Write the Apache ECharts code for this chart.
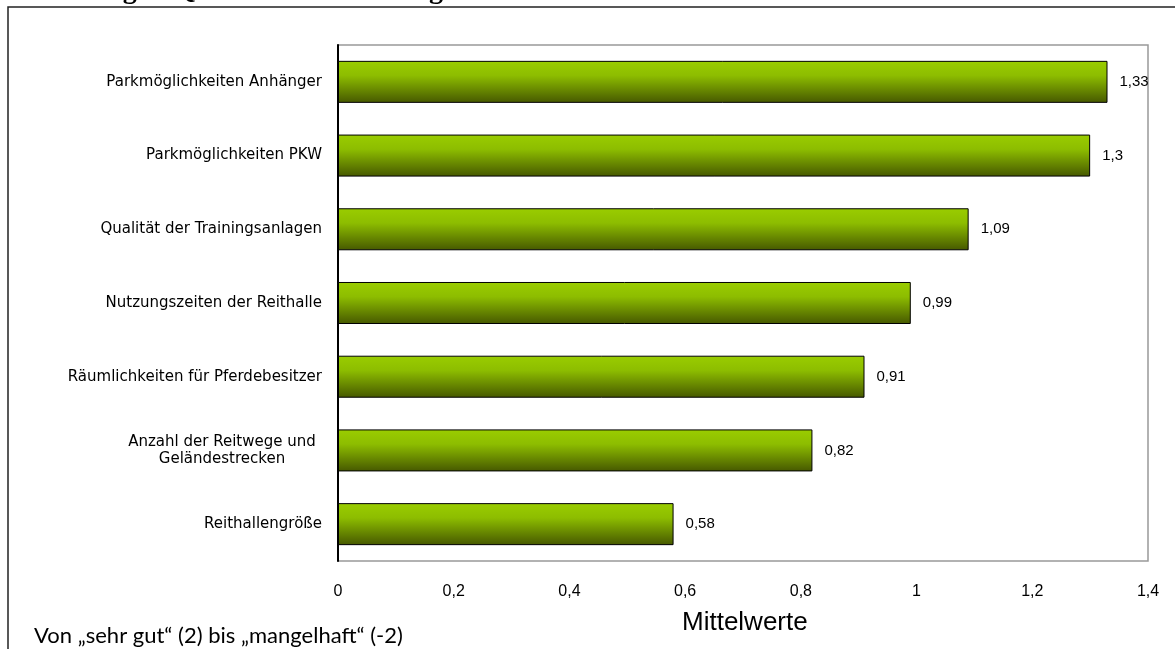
<!DOCTYPE html>
<html>
<head>
<meta charset="utf-8">
<script src="https://cdn.jsdelivr.net/npm/echarts@6/dist/echarts.min.js"></script>
<style>html,body{margin:0;padding:0;background:#fff;}#c{width:1175px;height:649px;}</style>
</head>
<body>
<div id="c"></div>
<script>
const categories = [
  'Parkmöglichkeiten Anhänger',
  'Parkmöglichkeiten PKW',
  'Qualität der Trainingsanlagen',
  'Nutzungszeiten der Reithalle',
  'Räumlichkeiten für Pferdebesitzer',
  'Anzahl der Reitwege und\nGeländestrecken',
  'Reithallengröße'
];
const values = [1.33, 1.3, 1.09, 0.99, 0.91, 0.82, 0.58];
const xTicks = [0, 0.2, 0.4, 0.6, 0.8, 1, 1.2, 1.4];
const titleText = 'Abbildung 4: Qualität der Reitanlage';
const axisTitle = 'Mittelwerte';
const noteText = 'Von „sehr gut“ (2) bis „mangelhaft“ (-2)';

const fmt = v => String(Math.round(v * 100) / 100).replace('.', ',');
const catFont = '"DejaVu Sans", "Liberation Sans", sans-serif';
const numFont = '"Liberation Sans", Arial, sans-serif';

const chart = echarts.init(document.getElementById('c'), null, {renderer: 'canvas'});
chart.setOption({
  animation: false,
  backgroundColor: '#fff',
  textStyle: {fontFamily: numFont},
  grid: {left: 338, top: 45, width: 810, height: 516, show: true, borderColor: '#999', borderWidth: 1.5, backgroundColor: 'transparent'},
  xAxis: {
    type: 'value', min: xTicks[0], max: xTicks[xTicks.length - 1], interval: 0.2,
    axisLine: {show: false}, axisTick: {show: false}, splitLine: {show: false},
    axisLabel: {margin: 23, fontSize: 16, fontFamily: numFont, color: '#000', formatter: v => fmt(v)}
  },
  yAxis: {
    type: 'category', data: categories, inverse: true,
    axisLine: {show: true, lineStyle: {color: '#000', width: 2}},
    axisTick: {show: false},
    axisLabel: {
      margin: 16, fontSize: 15, color: '#000', fontFamily: catFont,
      formatter: v => v.indexOf('\n') >= 0 ? v.split('\n').map(s => '{c|' + s + '}').join('\n') : v,
      rich: {c: {width: 200, align: 'center', fontSize: 15, fontFamily: catFont, color: '#000', lineHeight: 17}}
    }
  },
  series: [{
    type: 'bar', data: values, barCategoryGap: '43%',
    itemStyle: {
      borderColor: '#000', borderWidth: 1,
      color: new echarts.graphic.LinearGradient(0, 0, 0, 1, [
        {offset: 0, color: '#9ACD00'},
        {offset: 0.35, color: '#8DBD00'},
        {offset: 1, color: '#465800'}
      ])
    },
    label: {show: true, position: 'right', distance: 12, fontSize: 15, fontFamily: numFont, color: '#000', formatter: p => fmt(p.value)}
  }],
  graphic: [
    {type: 'rect', shape: {x: 8, y: 7, width: 1300, height: 800}, style: {fill: 'none', stroke: '#222', lineWidth: 1.5}, silent: true},
    {type: 'text', left: 9, top: -23, style: {text: titleText, font: 'bold 28px "Liberation Serif", serif', fill: '#000'}},
    {type: 'text', left: 682, top: 610, style: {text: axisTitle, font: '26px "Liberation Sans", Arial, sans-serif', fill: '#000'}},
    {type: 'text', left: 34, top: 625, style: {text: noteText, font: '22px Lato, "Liberation Sans", sans-serif', fill: '#000'}}
  ]
});
</script>
</body>
</html>
